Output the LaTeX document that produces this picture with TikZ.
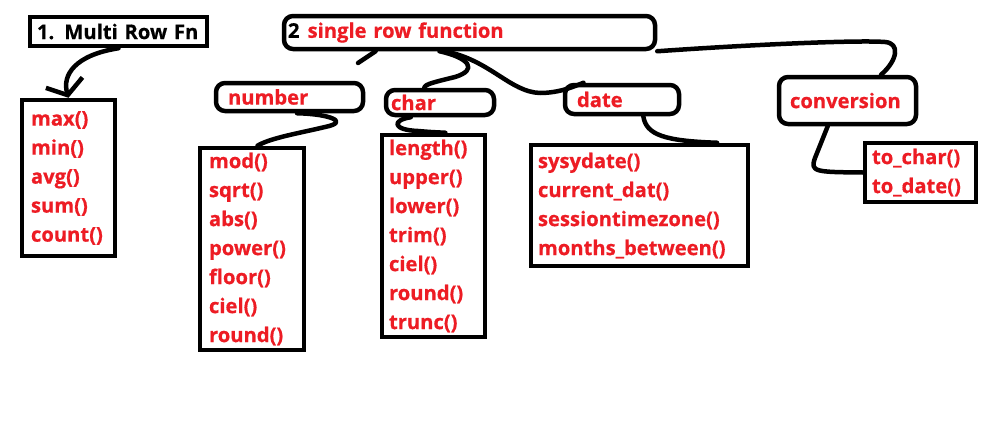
\documentclass[tikz,border=0pt]{standalone}
\usepackage{fontspec}
\setmainfont{Open Sans}[BoldFeatures={FakeBold=0.6}]
\usetikzlibrary{arrows.meta,calc}
\definecolor{pred}{RGB}{237,28,36}
\begin{document}
\begin{tikzpicture}[x=1pt,y=-1pt,
  every node/.style={font=\bfseries\fontsize{20.2}{29}\selectfont},
  listbox/.style={draw, line width=4.5pt, text=pred, align=left, inner ysep=0pt},
  labelbox/.style={draw, line width=4.5pt, rounded corners=9pt, text=pred, align=left, inner ysep=0pt},
  conn/.style={line width=4.5pt, line cap=round, line join=round}]
\useasboundingbox[fill=white] (0,0) rectangle (996,439);

% top-level boxes
\node[listbox, text=black, text width=163pt, inner xsep=7pt, minimum height=29pt] (fn) at (118.5,31.5) {1. Multi Row Fn};
\node[labelbox, text width=363pt, inner xsep=4pt, minimum height=33pt] (big) at (469.5,32.5) {\textcolor{black}{2}\hspace{0.4em}single row function};

% category labels
\node[labelbox, text width=123pt, inner xsep=12pt, minimum height=28pt] (number) at (289.5,97) {number};
\node[labelbox, text width=98pt, inner xsep=5pt, minimum height=25pt] (char) at (440,102.5) {char};
\node[labelbox, text width=90pt, inner xsep=12pt, minimum height=29pt] (date) at (622,99.5) {date};
\node[labelbox, text width=115pt, inner xsep=11pt, minimum height=47pt] (conversion) at (847.5,100.5) {conversion};

% lists
\node[listbox, text width=75pt, inner xsep=9pt, minimum height=156pt] (maxbox) at (68.5,178) {max()\\min()\\avg()\\sum()\\count()};
\node[listbox, text width=86pt, inner xsep=9pt, minimum height=202pt] (numlist) at (252,249) {mod()\\sqrt()\\abs()\\power()\\floor()\\ciel()\\round()};
\node[listbox, text width=89pt, inner xsep=7pt, minimum height=202pt] (charlist) at (433.5,236) {length()\\upper()\\lower()\\trim()\\ciel()\\round()\\trunc()};
\node[listbox, text width=203pt, inner xsep=7pt, minimum height=121pt] (datelist) at (639.5,205.5) {sysydate()\\current\_dat()\\sessiontimezone()\\months\_between()};
\node[listbox, text width=97pt, inner xsep=7pt, minimum height=59pt] (convlist) at (920.5,172.5) {to\_char()\\to\_date()};

% connectors
\draw[conn, -{Straight Barb[length=13pt,width=38pt]}] (fn.south) .. controls (75,55) and (62,75) .. (maxbox.north);

\coordinate (bigtick) at (358,63);
\draw[conn] ($(big.south west)!0.25!(big.south east)$) -- (bigtick);

\draw[conn] ($(big.south west)!0.42!(big.south east)$) .. controls (470,58) and (478,70) .. (455,77)
  .. controls (435,82) and (425,84) .. ($(char.north west)!0.36!(char.north east)$);

\draw[conn] ($(big.south west)!0.434!(big.south east)$) .. controls (490,60) and (510,92) .. (540,93)
  .. controls (560,93) and (575,86) .. ($(date.north west)!0.175!(date.north east)$);

\draw[conn] (big.south east) .. controls (760,44) and (860,40) .. (885,42)
  .. controls (900,43) and (898,60) .. ($(conversion.north west)!0.737!(conversion.north east)$);

\draw[conn] ($(number.south west)!0.55!(number.south east)$) .. controls (330,114) and (350,122) .. (325,127)
  .. controls (300,133) and (270,138) .. ($(numlist.north west)!0.55!(numlist.north east)$);

\draw[conn] ($(char.south west)!0.24!(char.south east)$) .. controls (392,120) and (392,130) .. (418,131)
  .. controls (430,132) .. ($(charlist.north west)!0.61!(charlist.north east)$);

\draw[conn] ($(date.south west)!0.68!(date.south east)$) .. controls (646,135) and (665,141) .. ($(datelist.north west)!0.85!(datelist.north east)$);

\draw[conn] ($(conversion.south west)!0.36!(conversion.south east)$) -- (815,158) .. controls (810,172) and (815,172) .. (convlist.west);
\end{tikzpicture}
\end{document}
